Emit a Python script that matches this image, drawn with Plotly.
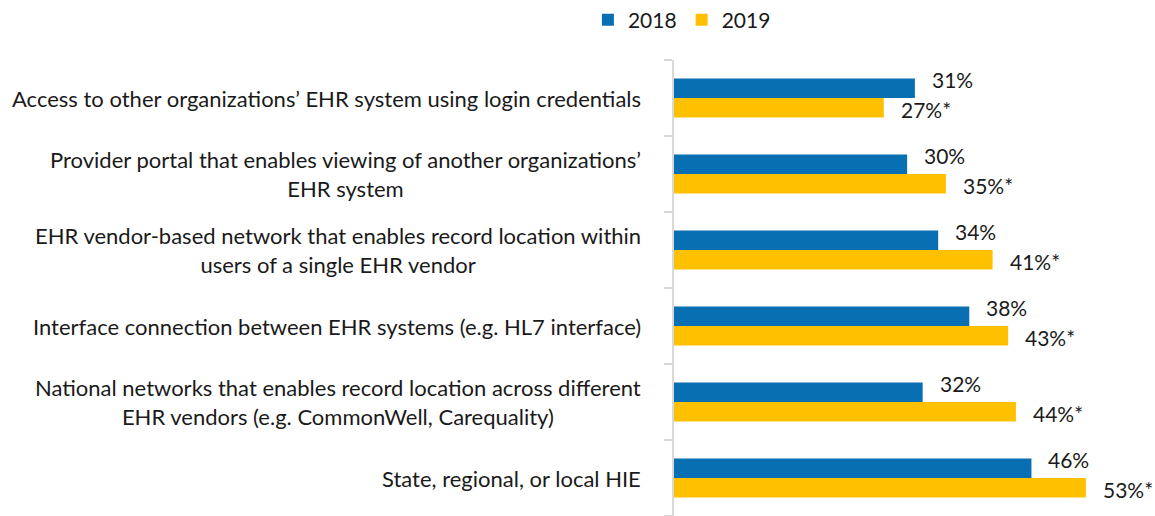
import plotly.graph_objects as go

categories = [
    "Access to other organizations’ EHR system using login credentials",
    "Provider portal that enables viewing of another organizations’<br>EHR system",
    "EHR vendor-based network that enables record location within<br>users of a single EHR vendor",
    "Interface connection between EHR systems (e.g. HL7 interface)",
    "National networks that enables record location across different<br>EHR vendors (e.g. CommonWell, Carequality)",
    "State, regional, or local HIE",
]
values_2018 = [31, 30, 34, 38, 32, 46]
values_2019 = [27, 35, 41, 43, 44, 53]
labels_2018 = ["31%", "30%", "34%", "38%", "32%", "46%"]
labels_2019 = ["27%*", "35%*", "41%*", "43%*", "44%*", "53%*"]
series_names = ["2018", "2019"]

BLUE = "#096FB3"
YELLOW = "#FFC000"
FONT = "Lato"
FS_CAT = 22
FS_VAL = 21
TXT = "#1a1a1a"
BARGAP = 0.49

cat_idx = list(range(len(categories)))

fig = go.Figure()
for name, vals, col in [(series_names[0], values_2018, BLUE), (series_names[1], values_2019, YELLOW)]:
    fig.add_trace(go.Bar(
        name=name, y=cat_idx, x=vals, orientation="h",
        marker=dict(color=col, line=dict(width=0)),
        hoverinfo="skip",
    ))

# value labels placed beside the bars
bar_w = (1 - BARGAP) / 2
for i in cat_idx:
    fig.add_annotation(x=values_2018[i], y=i - bar_w / 2, xref="x", yref="y",
                       text=labels_2018[i], showarrow=False, xanchor="left",
                       xshift=15, yshift=9, font=dict(family=FONT, size=FS_VAL, color=TXT))
    fig.add_annotation(x=values_2019[i], y=i + bar_w / 2, xref="x", yref="y",
                       text=labels_2019[i], showarrow=False, xanchor="left",
                       xshift=15, yshift=-2, font=dict(family=FONT, size=FS_VAL, color=TXT))

# category labels (centered multi-line, right-aligned block)
for i, lab in zip(cat_idx, categories):
    fig.add_annotation(
        x=0, xref="paper", y=i, yref="y", xanchor="right", xshift=-31,
        text=lab, showarrow=False, align="center",
        font=dict(family=FONT, size=FS_CAT, color=TXT),
    )

fig.update_layout(
    width=1155, height=516,
    margin=dict(l=674, r=0, t=60, b=0, autoexpand=False),
    paper_bgcolor="white", plot_bgcolor="white",
    barmode="group", bargap=BARGAP, bargroupgap=0,
    font=dict(family=FONT, size=FS_VAL, color=TXT),
    showlegend=True,
    legend=dict(orientation="h", xref="container", x=0.509, xanchor="left",
                yref="container", y=0.961, yanchor="middle",
                font=dict(family=FONT, size=FS_VAL, color=TXT),
                itemwidth=30, traceorder="normal"),
    xaxis=dict(range=[0, 61.9], visible=False, fixedrange=True),
    yaxis=dict(range=[len(categories) - 0.5, -0.5], showticklabels=False, showline=True,
               linecolor="#D9D9D9", linewidth=2, ticks="outside", ticklen=8,
               tickcolor="#D9D9D9", tickwidth=2,
               tickvals=[k - 0.5 for k in range(len(categories) + 1)],
               showgrid=False, zeroline=False, fixedrange=True),
)

fig.write_html("out.html", config={"displayModeBar": False},
               post_script="document.body.style.margin='0px';document.body.style.overflow='hidden';")
